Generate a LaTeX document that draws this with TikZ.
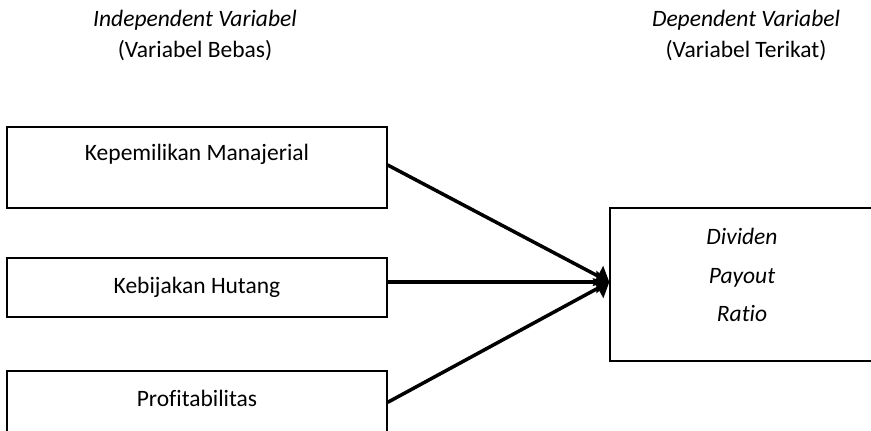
\documentclass[tikz,border=0pt]{standalone}
\usepackage{fontspec}
\setmainfont[Ligatures=NoCommon]{Carlito}
\usetikzlibrary{arrows.meta}
\begin{document}
\begin{tikzpicture}[x=1pt,y=-1pt,
  box/.style={draw=black,line width=1.3pt,minimum width=380pt,inner sep=0pt},
  lbl/.style={font=\fontsize{23.5}{27}\selectfont,inner sep=0pt},
  conn/.style={line width=3.5pt,-{Triangle[length=13pt,width=22pt]}}]
\useasboundingbox (0,0) rectangle (871,431);
\clip (0,0) rectangle (871,431);
% headers
\node[lbl] (h1) at (195,20) {\itshape Independent Variabel};
\node[lbl] (h2) at (195,51) {(Variabel Bebas)};
\node[lbl] (h3) at (746,20) {\itshape Dependent Variabel};
\node[lbl] (h4) at (746,51) {(Variabel Terikat)};
% boxes
\node[box,minimum height=81pt] (km) at (197,167.5) {};
\node[box,minimum height=59pt] (kh) at (197,287.5) {};
\node[box,minimum height=80pt] (pr) at (197,411) {};
\node[draw=black,line width=1.3pt,minimum width=280pt,minimum height=153pt,inner sep=0pt] (dpr) at (750,284.5) {};
% texts
\node[lbl] (t1) at (197,154) {Kepemilikan Manajerial};
\node[lbl] (t2) at (197,287) {Kebijakan Hutang};
\node[lbl] (t3) at (197,398) {Profitabilitas};
\node[lbl,anchor=base] (d1) at (742,244) {\itshape Dividen};
\node[lbl,anchor=base] (d2) at (742,283) {\itshape Payout};
\node[lbl,anchor=base] (d3) at (742,321) {\itshape Ratio};
% connectors
\coordinate (s1) at ([yshift=2.5pt]km.east);
\coordinate (s3) at ([yshift=-32pt]pr.north east);
\coordinate (tip) at ([yshift=2.5pt]dpr.west);
\draw[conn] (s1) -- (tip);
\draw[conn] (kh.east |- tip) -- (tip);
\draw[conn] (s3) -- (tip);
\end{tikzpicture}
\end{document}
